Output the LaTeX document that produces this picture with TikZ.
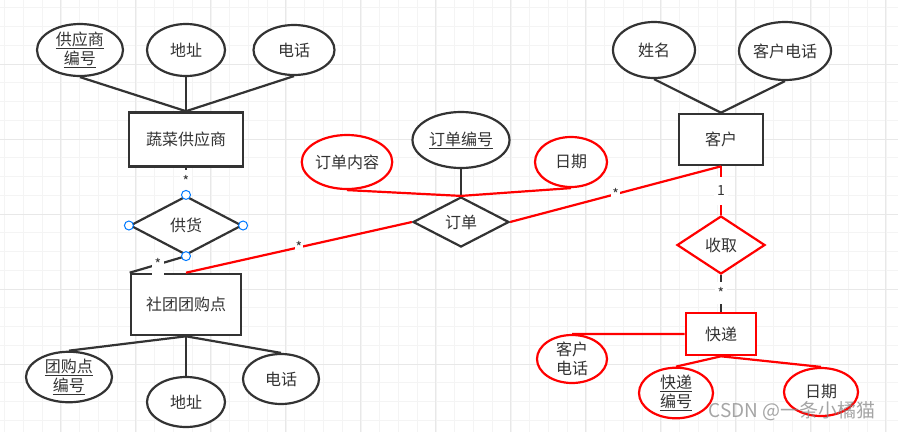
\documentclass[tikz,border=0pt]{standalone}
\usepackage{fontspec}
\setmainfont{Noto Sans CJK SC}
\usepackage{tikz}
\usetikzlibrary{positioning,shapes.geometric,calc}
\definecolor{erink}{RGB}{51,51,51}
\definecolor{erred}{RGB}{255,0,0}
\definecolor{erblue}{RGB}{0,122,255}
\definecolor{gridminor}{RGB}{244,244,244}
\definecolor{gridmajor}{RGB}{232,232,232}
\newcommand{\erfont}{\fontsize{16}{19}\selectfont}

\begin{document}
\begin{tikzpicture}[x=1pt, y=-1pt,
    entbox/.style={rectangle, draw=erink, line width=2.6pt, fill=white,
                   inner sep=0pt, font=\erfont, text=erink},
    attr/.style={ellipse, draw=erink, line width=2.2pt, fill=white, inner sep=0pt,
                 align=center, font=\erfont, text=erink},
    relbox/.style={diamond, draw=erink, line width=2.2pt, fill=white, inner sep=0pt,
                   font=\erfont, text=erink},
    link/.style={draw=erink, line width=2.2pt},
    redlink/.style={draw=erred, line width=2.2pt},
    mult/.style={fill=white, inner sep=3pt, minimum height=22pt, text=erink,
                 font=\fontsize{14}{16}\selectfont},
    handle/.style={circle, draw=erblue, fill=white, line width=1pt,
                   inner sep=0pt, minimum size=9pt}
  ]
  \useasboundingbox (0,0) rectangle (898,432);
  \fill[white] (0,0) rectangle (898,432);

  % background grid
  \foreach \gx in {4.75,23.5,...,898} \draw[gridminor, line width=1pt] (\gx,0) -- (\gx,432);
  \foreach \gy in {7.75,26.5,...,432} \draw[gridminor, line width=1pt] (0,\gy) -- (898,\gy);
  \foreach \gx in {60,135,...,898} \draw[gridmajor, line width=1pt] (\gx,0) -- (\gx,432);
  \foreach \gy in {64,139,...,432} \draw[gridmajor, line width=1pt] (0,\gy) -- (898,\gy);

  % vegetable supplier
  \node[entbox, minimum width=114pt, minimum height=54pt] (sup) at (186,139.5) {蔬菜供应商};
  \node[attr, minimum width=86pt, minimum height=52pt] (supid) at (80,50) {\underline{供应商}\\\underline{编号}};
  \node[attr, minimum width=78pt, minimum height=52pt] (supaddr) at (186,50) {地址};
  \node[attr, minimum width=81pt, minimum height=50pt] (suptel) at (294,50) {电话};

  % supply relation
  \node[relbox, minimum width=112pt, minimum height=59pt] (supply) at (186,225.5) {供货};

  % community group-buying point
  \node[entbox, minimum width=110pt, minimum height=61pt] (grp) at (186,304.5) {社团团购点};
  \node[attr, minimum width=86pt, minimum height=46pt] (grpid) at (69,377) {\underline{团购点}\\\underline{编号}};
  \node[attr, minimum width=78pt, minimum height=50pt] (grpaddr) at (186,402) {地址};
  \node[attr, minimum width=76pt, minimum height=50pt] (grptel) at (281,379) {电话};

  % order relation
  \node[relbox, minimum width=96pt, minimum height=50pt] (order) at (461,222) {订单};
  \node[attr, minimum width=97pt, minimum height=56pt] (ordid) at (461,140) {\underline{订单编号}};
  \node[attr, draw=erred, minimum width=90pt, minimum height=54pt] (ordcont) at (347,162) {订单内容};
  \node[attr, draw=erred, minimum width=72pt, minimum height=50pt] (orddate) at (571,162) {日期};

  % customer
  \node[entbox, minimum width=84pt, minimum height=51pt] (cust) at (721,139.5) {客户};
  \node[attr, minimum width=82pt, minimum height=56pt] (custname) at (654,50) {姓名};
  \node[attr, minimum width=92pt, minimum height=58pt] (custtel) at (785,51) {客户电话};

  % receive relation and express
  \node[relbox, draw=erred, minimum width=88pt, minimum height=58pt] (recv) at (721,245) {收取};
  \node[entbox, draw=erred, minimum width=70pt, minimum height=42pt] (exp) at (721,334) {快递};
  \node[attr, draw=erred, minimum width=70pt, minimum height=48pt] (exptel) at (572,359) {客户\\电话};
  \node[attr, draw=erred, minimum width=74pt, minimum height=50pt] (expid) at (676,393) {\underline{快递}\\\underline{编号}};
  \node[attr, draw=erred, minimum width=74pt, minimum height=48pt] (expdate) at (821,392) {日期};

  % attribute lines
  \draw[link] (supid.south) -- (sup.north);
  \draw[link] (supaddr.south) -- (sup.north);
  \draw[link] (suptel.south) -- (sup.north);
  \draw[link] (grp.south) -- (grpid.north);
  \draw[link] (grp.south) -- (grpaddr.north);
  \draw[link] (grp.south) -- (grptel.north);
  \draw[link] (order.north) -- (ordid.south);
  \draw[redlink] (ordcont.south) -- (order.north);
  \draw[redlink] (orddate.south) -- (order.north);
  \draw[link] (custname.south) -- (cust.north);
  \draw[link] (custtel.south) -- (cust.north);
  \draw[redlink] (exp.west) -- (exptel.north);
  \draw[redlink] (exp.south) -- (expid.north);
  \draw[redlink] (exp.south) -- (expdate.north);

  % relation lines with multiplicities
  \draw[link] (sup.south) -- (supply.north) node[mult, midway] (m1) {*};
  \draw[link] (supply.south) -- (grp.north west) node[mult, midway] (m2) {*};
  \draw[redlink] (grp.north) -- (order.west) node[mult, midway, minimum height=14pt, inner sep=1pt] (m3) {*};
  \draw[redlink] (order.east) -- (cust.south) node[mult, midway, minimum height=14pt, inner sep=1pt] (m4) {*};
  \draw[redlink] (cust.south) -- (recv.north) node[mult, midway, minimum height=28pt] (m5) {1};
  \draw[link] (recv.south) -- (exp.north) node[mult, midway] (m6) {*};

  % selection handles on supply
  \foreach \side in {north,south,east,west}
    \node[handle] (h-\side) at (supply.\side) {};

  % watermark
  \node[text=gray, opacity=0.7, font=\fontsize{19}{22}\selectfont] (mark) at (792,411) {CSDN @一条小橘猫};
\end{tikzpicture}
\end{document}
